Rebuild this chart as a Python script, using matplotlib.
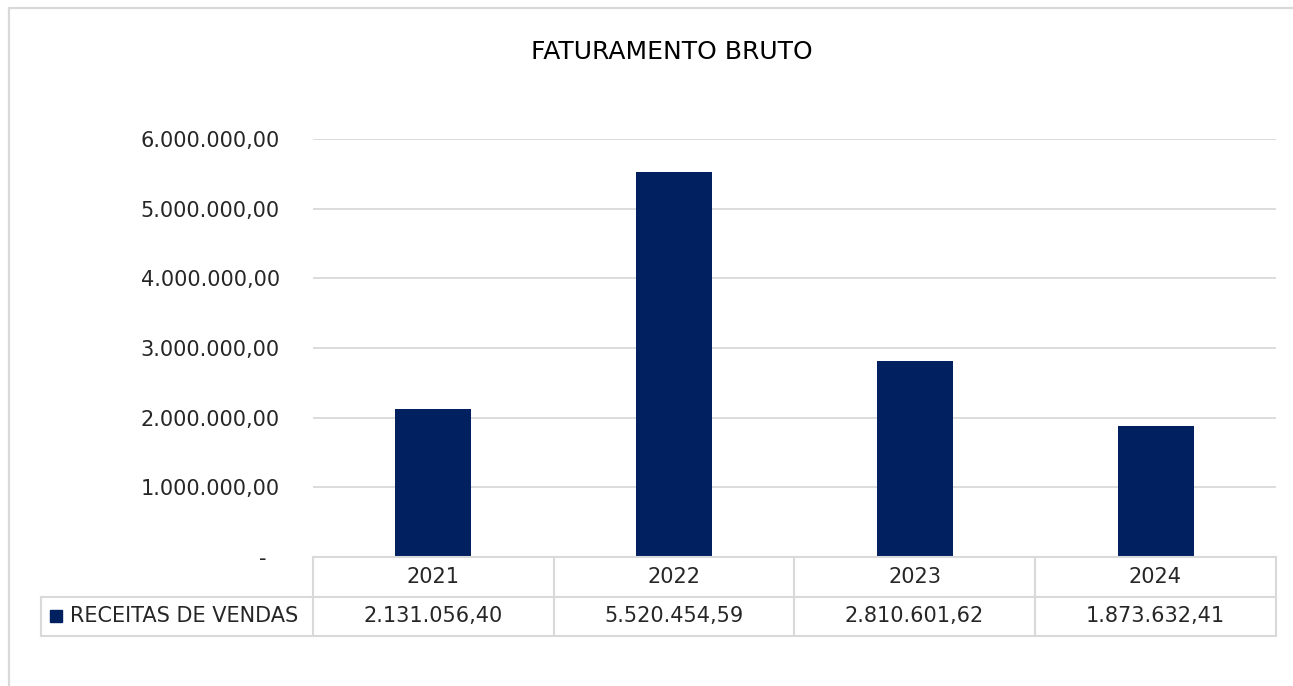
import matplotlib
matplotlib.use("Agg")
import matplotlib.pyplot as plt
from matplotlib.patches import Rectangle
from matplotlib.lines import Line2D

years = ["2021", "2022", "2023", "2024"]
receitas = [2131056.40, 5520454.59, 2810601.62, 1873632.41]
series_name = "RECEITAS DE VENDAS"
title = "FATURAMENTO BRUTO"
yticks = [0, 1000000, 2000000, 3000000, 4000000, 5000000, 6000000]

W, H = 1293, 686
plt.rcParams['font.family'] = ['DejaVu Sans']
fig = plt.figure(figsize=(W/100, H/100), dpi=100)

def fx(px): return px / W
def fy(py): return 1 - py / H

navy = "#002060"
grid = "#d9d9d9"
txt = "#262626"
fs = 15

# outer chart border: only the left and top edges fall inside the frame
fig.add_artist(Line2D([fx(9), fx(9), fx(1293)], [fy(686), fy(8), fy(8)],
                      color=grid, lw=1.6, transform=fig.transFigure))

ax = fig.add_axes([fx(313), fy(557), fx(1276) - fx(313), fy(139) - fy(557)])
x = list(range(len(years)))
ax.bar(x, receitas, width=0.316, color=navy, zorder=3)
ax.set_xlim(-0.5, len(years) - 0.5)
ax.set_ylim(0, 6000000)
ax.set_yticks(yticks)

def fmt(v):
    if v == 0:
        return "-"
    s = f"{v:,.2f}"
    return s.replace(",", "X").replace(".", ",").replace("X", ".")

ylabels = [fmt(v) if v else "-  " for v in yticks]
ax.set_yticklabels(ylabels, fontsize=fs, color=txt)
ax.tick_params(axis='y', length=0, pad=24)
ax.set_xticks([])
ax.grid(axis='y', color=grid, lw=1.3, zorder=0)
for s in ax.spines.values():
    s.set_visible(False)

fig.text(fx(672), fy(52), title, ha='center', va='center', fontsize=18, color="#000000")

# data table
col_edges = [313, 554, 794, 1035, 1276]
r0, r1, r2 = 557, 597, 636
lw = 1.5
def hline(y, x0, x1):
    fig.add_artist(Line2D([fx(x0), fx(x1)], [fy(y), fy(y)], color=grid, lw=lw, transform=fig.transFigure))
def vline(xp, y0, y1):
    fig.add_artist(Line2D([fx(xp), fx(xp)], [fy(y0), fy(y1)], color=grid, lw=lw, transform=fig.transFigure))

hline(r0, 313, 1276)
hline(r1, 41, 1276)
hline(r2, 41, 1276)
for xe in col_edges:
    vline(xe, r0, r2)
vline(41, r1, r2)

for i, (yr, v) in enumerate(zip(years, receitas)):
    cx = (col_edges[i] + col_edges[i+1]) / 2
    fig.text(fx(cx), fy((r0 + r1) / 2), yr, ha='center', va='center', fontsize=fs, color=txt)
    fig.text(fx(cx), fy((r1 + r2) / 2), fmt(v), ha='center', va='center', fontsize=fs, color=txt)

fig.add_artist(Rectangle((fx(50), fy(622)), fx(62) - fx(50), fy(610) - fy(622),
                         transform=fig.transFigure, color=navy))
fig.text(fx(70), fy((r1 + r2) / 2), series_name, ha='left', va='center', fontsize=fs, color=txt)

fig.savefig("out.png", dpi=100, facecolor="white")
